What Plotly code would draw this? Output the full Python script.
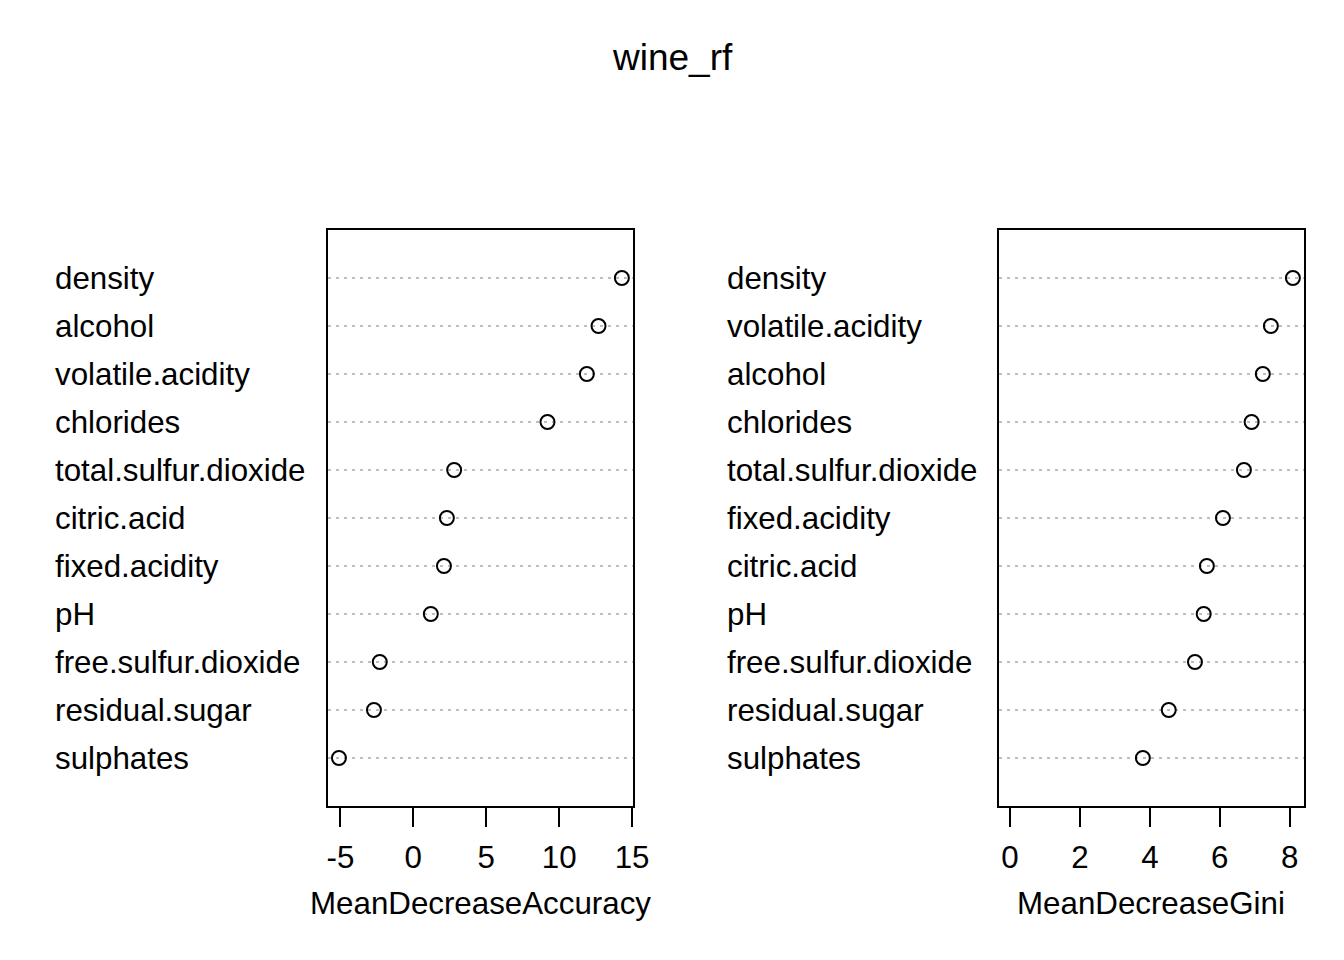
import plotly.graph_objects as go

# Data
acc_vars = ["density", "alcohol", "volatile.acidity", "chlorides", "total.sulfur.dioxide",
            "citric.acid", "fixed.acidity", "pH", "free.sulfur.dioxide", "residual.sugar", "sulphates"]
acc_vals = [14.3, 12.7, 11.9, 9.2, 2.8, 2.3, 2.1, 1.2, -2.3, -2.7, -5.1]

gini_vars = ["density", "volatile.acidity", "alcohol", "chlorides", "total.sulfur.dioxide",
             "fixed.acidity", "citric.acid", "pH", "free.sulfur.dioxide", "residual.sugar", "sulphates"]
gini_vals = [8.09, 7.46, 7.23, 6.91, 6.69, 6.09, 5.63, 5.54, 5.29, 4.54, 3.80]

acc_ticks = [-5, 0, 5, 10, 15]
acc_ticktext = ["-5", "0", "5", "10", "15"]
gini_ticks = [0, 2, 4, 6, 8]
gini_ticktext = ["0", "2", "4", "6", "8"]
title_text = "wine_rf"
acc_title = "MeanDecreaseAccuracy"
gini_title = "MeanDecreaseGini"

# page body has an 8px margin; horizontal capture factor calibrated from previous renders
OFF = 8
SX = 0.98875
W, H = 1340, 944
FONT = "Liberation Sans, Arial, sans-serif"
FS = 31.3

def px(x):  # target screen x -> paper fraction
    return (x / SX - OFF) / W

def py(y):  # target screen y -> paper fraction
    return 1 - (y - OFF) / H

n = len(acc_vars)
ypos = list(range(n, 0, -1))  # top row = n

fig = go.Figure()
marker = dict(symbol="circle-open", size=14, color="black", line=dict(color="black", width=2))
fig.add_trace(go.Scatter(x=acc_vals, y=ypos, mode="markers", marker=marker, xaxis="x", yaxis="y",
                         showlegend=False, cliponaxis=False))
fig.add_trace(go.Scatter(x=gini_vals, y=ypos, mode="markers", marker=marker, xaxis="x2", yaxis="y2",
                         showlegend=False, cliponaxis=False))

def pad(lo, hi):
    r = hi - lo
    return [lo - 0.04 * r, hi + 0.04 * r]

acc_range = pad(min(acc_vals), max(acc_vals))
gini_range = pad(0, max(gini_vals))

ydom = [py(806), py(230)]
xaxis_common = dict(showline=True, mirror=True, linecolor="black", linewidth=2,
                    ticks="outside", ticklen=19, tickwidth=2, tickcolor="black",
                    ticklabelstandoff=3,
                    showgrid=False, zeroline=False,
                    tickfont=dict(family=FONT, size=FS, color="black"))
yaxis_common = dict(range=[0, n + 1], showline=True, mirror=True, linecolor="black", linewidth=2,
                    tickvals=ypos, showticklabels=False, ticks="",
                    showgrid=True, gridcolor="#bebebe", gridwidth=1.5, griddash="3px,5px",
                    zeroline=False, domain=ydom)

fig.update_layout(
    width=W, height=H,
    margin=dict(l=0, r=0, t=0, b=0),
    paper_bgcolor="white", plot_bgcolor="white",
    font=dict(family=FONT, size=FS, color="black"),
    xaxis=dict(domain=[px(327), px(633)], range=acc_range, tickvals=acc_ticks, ticktext=acc_ticktext,
               anchor="y", **xaxis_common),
    yaxis=dict(anchor="x", **yaxis_common),
    xaxis2=dict(domain=[px(999), px(1305)], range=gini_range, tickvals=gini_ticks, ticktext=gini_ticktext,
                anchor="y2", **xaxis_common),
    yaxis2=dict(anchor="x2", **yaxis_common),
)

annotations = []
for v, y in zip(acc_vars, ypos):
    annotations.append(dict(text=v, x=px(52), y=y, xref="paper", yref="y", xanchor="left", yanchor="middle",
                            showarrow=False, font=dict(family=FONT, size=FS, color="black")))
for v, y in zip(gini_vars, ypos):
    annotations.append(dict(text=v, x=px(725), y=y, xref="paper", yref="y2", xanchor="left", yanchor="middle",
                            showarrow=False, font=dict(family=FONT, size=FS, color="black")))
annotations.append(dict(text=title_text, x=px(672), y=py(58), xref="paper", yref="paper",
                        xanchor="center", yanchor="middle", showarrow=False,
                        font=dict(family=FONT, size=37, color="black")))
annotations.append(dict(text=acc_title, x=px(480), y=py(903), xref="paper", yref="paper",
                        xanchor="center", yanchor="middle", showarrow=False,
                        font=dict(family=FONT, size=FS, color="black")))
annotations.append(dict(text=gini_title, x=px(1152), y=py(903), xref="paper", yref="paper",
                        xanchor="center", yanchor="middle", showarrow=False,
                        font=dict(family=FONT, size=FS, color="black")))
fig.update_layout(annotations=annotations)

fig.write_html("out.html")
